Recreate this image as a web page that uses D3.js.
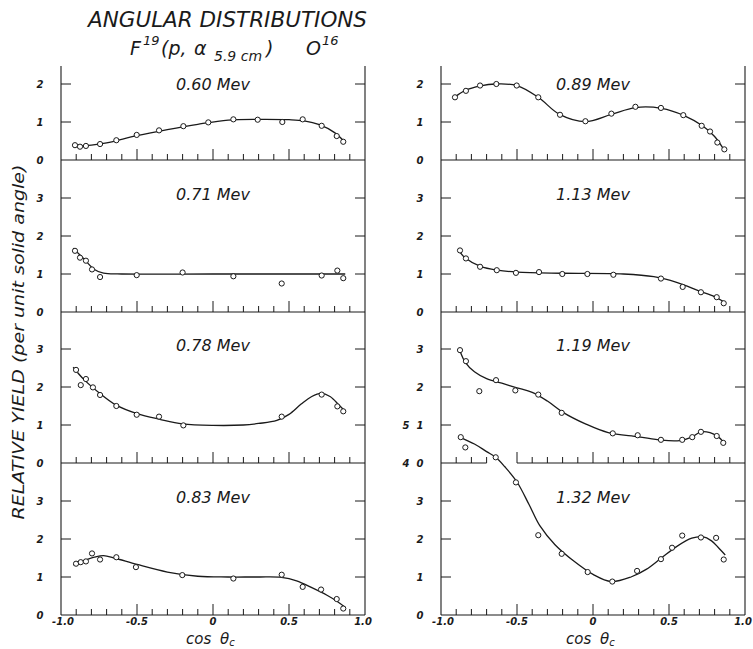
<!DOCTYPE html>
<html>
<head>
<meta charset="utf-8">
<script src="https://cdn.jsdelivr.net/npm/d3@7"></script>
<style>
  body { margin: 0; background: #fff; }
  svg { display: block; }
  text { font-family: "DejaVu Sans", sans-serif; font-style: oblique; fill: #1a1a1a; }
</style>
</head>
<body>
<div id="chart"></div>
<script>
// Angular distributions F19(p, alpha) O16 - eight stacked panels in two columns

// x ticks along every panel bottom (cos theta_c)
const minorTicks = [-0.9, -0.8, -0.7, -0.6, -0.4, -0.3, -0.2, -0.1, 0.1, 0.2, 0.3, 0.4, 0.6, 0.7, 0.8, 0.9];
const majorTicks = [-0.5, 0, 0.5];
const xLabels = ['-1.0', '-0.5', '0', '0.5', '1.0'];
const xLabelValues = [-1, -0.5, 0, 0.5, 1];

// measured points [cos theta, relative yield] and the smooth fitted curve of each energy
const pts060 = [[-0.908,0.39],[-0.875,0.35],[-0.836,0.37],[-0.743,0.42],[-0.636,0.52],[-0.502,0.66],[-0.355,0.78],[-0.195,0.89],[-0.031,0.99],[0.134,1.07],[0.294,1.06],[0.456,1.0],[0.59,1.07],[0.715,0.9],[0.814,0.63],[0.857,0.48]];
const fit060 = [[-0.9,0.37],[-0.8,0.39],[-0.7,0.45],[-0.5,0.64],[-0.3,0.8],[-0.1,0.94],[0.1,1.05],[0.3,1.07],[0.5,1.06],[0.6,1.03],[0.7,0.93],[0.8,0.72],[0.86,0.5]];

const pts089 = [[-0.908,1.65],[-0.836,1.82],[-0.743,1.96],[-0.636,2.0],[-0.502,1.96],[-0.36,1.65],[-0.217,1.19],[-0.05,1.02],[0.121,1.22],[0.279,1.4],[0.447,1.37],[0.594,1.18],[0.715,0.9],[0.77,0.75],[0.818,0.46],[0.864,0.28]];
const fit089 = [[-0.91,1.65],[-0.84,1.83],[-0.74,1.95],[-0.64,2.0],[-0.5,1.96],[-0.36,1.65],[-0.22,1.2],[-0.05,1.01],[0.12,1.2],[0.28,1.38],[0.45,1.36],[0.6,1.17],[0.72,0.9],[0.8,0.62],[0.86,0.28]];

const pts071 = [[-0.908,1.61],[-0.875,1.43],[-0.836,1.35],[-0.796,1.12],[-0.743,0.92],[-0.502,0.97],[-0.2,1.04],[0.134,0.94],[0.452,0.75],[0.715,0.96],[0.818,1.09],[0.857,0.89]];
const fit071 = [[-0.92,1.68],[-0.85,1.4],[-0.78,1.12],[-0.72,1.02],[-0.6,1.0],[0,1.0],[0.87,1.0]];

const pts113 = [[-0.875,1.62],[-0.836,1.41],[-0.743,1.19],[-0.633,1.1],[-0.507,1.03],[-0.355,1.05],[-0.202,1.0],[-0.037,1.0],[0.134,0.98],[0.447,0.88],[0.59,0.66],[0.71,0.52],[0.814,0.39],[0.86,0.23]];
const fit113 = [[-0.88,1.6],[-0.84,1.42],[-0.74,1.2],[-0.63,1.1],[-0.5,1.05],[-0.2,1.02],[0.2,1.0],[0.4,0.93],[0.55,0.78],[0.7,0.55],[0.8,0.4],[0.87,0.25]];

const pts078 = [[-0.901,2.45],[-0.87,2.05],[-0.836,2.21],[-0.79,1.99],[-0.743,1.79],[-0.636,1.5],[-0.502,1.27],[-0.355,1.22],[-0.195,0.99],[0.452,1.22],[0.715,1.8],[0.818,1.49],[0.857,1.36]];
const fit078 = [[-0.92,2.52],[-0.85,2.2],[-0.75,1.85],[-0.64,1.53],[-0.5,1.3],[-0.35,1.15],[-0.2,1.03],[0,0.99],[0.2,1.0],[0.3,1.04],[0.42,1.12],[0.5,1.28],[0.58,1.55],[0.65,1.75],[0.71,1.83],[0.77,1.75],[0.83,1.52],[0.87,1.36]];

const pts119 = [[-0.875,2.97],[-0.836,2.68],[-0.748,1.89],[-0.638,2.18],[-0.511,1.91],[-0.36,1.8],[-0.206,1.32],[0.13,0.78],[0.294,0.73],[0.447,0.61],[0.587,0.61],[0.653,0.68],[0.71,0.82],[0.814,0.71],[0.857,0.53]];
const fit119 = [[-0.875,2.95],[-0.84,2.65],[-0.78,2.4],[-0.7,2.22],[-0.6,2.1],[-0.5,1.98],[-0.4,1.86],[-0.3,1.63],[-0.2,1.34],[-0.05,1.03],[0.1,0.8],[0.3,0.69],[0.45,0.6],[0.57,0.59],[0.65,0.68],[0.71,0.82],[0.77,0.8],[0.82,0.7],[0.86,0.55]];

const pts083 = [[-0.901,1.35],[-0.87,1.39],[-0.836,1.41],[-0.796,1.62],[-0.743,1.46],[-0.636,1.52],[-0.507,1.26],[-0.202,1.05],[0.134,0.96],[0.452,1.06],[0.59,0.74],[0.711,0.67],[0.814,0.42],[0.857,0.17]];
const fit083 = [[-0.92,1.32],[-0.85,1.43],[-0.78,1.52],[-0.72,1.56],[-0.65,1.5],[-0.5,1.33],[-0.3,1.13],[-0.1,1.02],[0.1,1.0],[0.3,1.0],[0.45,0.99],[0.55,0.9],[0.65,0.72],[0.75,0.52],[0.82,0.35],[0.87,0.2]];

const pts132 = [[-0.87,4.68],[-0.84,4.41],[-0.64,4.15],[-0.507,3.49],[-0.36,2.1],[-0.206,1.61],[-0.035,1.13],[0.127,0.88],[0.29,1.16],[0.447,1.47],[0.52,1.77],[0.587,2.09],[0.71,2.04],[0.81,2.03],[0.86,1.46]];
const fit132 = [[-0.87,4.67],[-0.78,4.5],[-0.7,4.3],[-0.64,4.15],[-0.58,3.9],[-0.5,3.5],[-0.42,2.9],[-0.35,2.35],[-0.25,1.85],[-0.12,1.4],[0,1.07],[0.12,0.88],[0.25,1.0],[0.35,1.2],[0.45,1.5],[0.55,1.8],[0.65,2.02],[0.72,2.06],[0.78,1.95],[0.83,1.75],[0.87,1.58]];

const energies = ['0.60 Mev', '0.71 Mev', '0.78 Mev', '0.83 Mev', '0.89 Mev', '1.13 Mev', '1.19 Mev', '1.32 Mev'];

// panel table built from the arrays above
const panels = [
  {label: energies[0], col: 0, row: 0, pts: pts060, fit: fit060},
  {label: energies[1], col: 0, row: 1, pts: pts071, fit: fit071},
  {label: energies[2], col: 0, row: 2, pts: pts078, fit: fit078},
  {label: energies[3], col: 0, row: 3, pts: pts083, fit: fit083},
  {label: energies[4], col: 1, row: 0, pts: pts089, fit: fit089},
  {label: energies[5], col: 1, row: 1, pts: pts113, fit: fit113},
  {label: energies[6], col: 1, row: 2, pts: pts119, fit: fit119, gap: [-0.7, -0.5]},
  {label: energies[7], col: 1, row: 3, pts: pts132, fit: fit132}
];

const width = 753, height = 649;
const colLeft = [61, 441];
const colRight = [365, 745];
const zeroY = [160, 312, 463, 615];
const unit = 38;
const topY = 66;
const ink = '#1a1a1a';

const svg = d3.select('#chart').append('svg')
  .attr('width', width)
  .attr('height', height);

// titles
svg.append('text')
  .attr('x', 88).attr('y', 27)
  .attr('textLength', 279).attr('lengthAdjust', 'spacingAndGlyphs')
  .style('font-size', '22px')
  .text('ANGULAR DISTRIBUTIONS');

const t2 = svg.append('text').attr('y', 55).style('font-size', '19px');
t2.append('tspan').attr('x', 130).text('F');
t2.append('tspan').attr('x', 143).attr('dy', -10).style('font-size', '13px').text('19');
t2.append('tspan').attr('x', 161).attr('dy', 10).text('(p,');
t2.append('tspan').attr('x', 194).text('α');
t2.append('tspan').attr('x', 214).attr('dy', 6).style('font-size', '14px').text('5.9 cm');
t2.append('tspan').attr('x', 266).attr('dy', -6).text(')');
t2.append('tspan').attr('x', 306).text('O');
t2.append('tspan').attr('x', 322).attr('dy', -10).style('font-size', '13px').text('16');

// y axis title
svg.append('text')
  .attr('transform', 'translate(24,342) rotate(-90)')
  .attr('text-anchor', 'middle')
  .attr('textLength', 355).attr('lengthAdjust', 'spacingAndGlyphs')
  .style('font-size', '16px')
  .text('RELATIVE YIELD  (per unit solid angle)');

// frame of each column: two long verticals
[0, 1].forEach(c => {
  [colLeft[c], colRight[c]].forEach(x => {
    svg.append('line')
      .attr('x1', x).attr('x2', x)
      .attr('y1', topY).attr('y2', zeroY[3])
      .attr('stroke', ink).attr('stroke-width', 1.1);
  });
  // x tick labels under the lowest panel
  const x = d3.scaleLinear().domain([-1, 1]).range([colLeft[c], colRight[c]]);
  svg.selectAll(null).data(xLabelValues).enter().append('text')
    .attr('x', (d, i) => x(d) + (i === 0 ? 2 : (i === 4 ? -2 : 0)))
    .attr('y', 625)
    .attr('text-anchor', 'middle')
    .style('font-size', '10px').style('font-weight', 'bold')
    .text((d, i) => xLabels[i]);
  const xt = svg.append('text')
    .attr('x', x(0) - 27).attr('y', 644)
    .style('font-size', '15px');
  xt.append('tspan').text('cos ');
  xt.append('tspan').attr('dx', 4).text('θ');
  xt.append('tspan').attr('dy', 2).style('font-size', '10px').text('c');
});

const lineGen = d3.line().curve(d3.curveCatmullRom.alpha(0.5));

panels.forEach(p => {
  const x = d3.scaleLinear().domain([-1, 1]).range([colLeft[p.col], colRight[p.col]]);
  const y0 = zeroY[p.row];
  const yMax = p.row === 0 ? 2.5 : (p.label === '1.32 Mev' ? 5 : 4);
  const y = d3.scaleLinear().domain([0, yMax]).range([y0, y0 - yMax * unit]);
  const g = svg.append('g');

  // bottom line (with an optional break where a neighbour's curve passes)
  const segs = p.gap ? [[-1, p.gap[0]], [p.gap[1], 1]] : [[-1, 1]];
  segs.forEach(s => {
    g.append('line')
      .attr('x1', x(s[0])).attr('x2', x(s[1]))
      .attr('y1', y(0)).attr('y2', y(0))
      .attr('stroke', ink).attr('stroke-width', 1.1);
  });
  const hidden = v => p.gap && v > p.gap[0] + 0.01 && v < p.gap[1] - 0.01;
  g.selectAll('.minor').data(minorTicks.filter(v => !hidden(v))).enter().append('line')
    .attr('x1', d => x(d)).attr('x2', d => x(d))
    .attr('y1', y(0)).attr('y2', y(0) - 6)
    .attr('stroke', ink).attr('stroke-width', 1);
  g.selectAll('.major').data(majorTicks).enter().append('line')
    .attr('x1', d => x(d)).attr('x2', d => x(d))
    .attr('y1', y(0)).attr('y2', y(0) - 11)
    .attr('stroke', ink).attr('stroke-width', 1);

  // y ticks on both sides, pointing inward
  const yt = p.row === 0 ? [1, 2] : [1, 2, 3];
  yt.forEach(v => {
    g.append('line').attr('x1', x(-1)).attr('x2', x(-1) + 10)
      .attr('y1', y(v)).attr('y2', y(v)).attr('stroke', ink).attr('stroke-width', 1);
    g.append('line').attr('x1', x(1)).attr('x2', x(1) - 10)
      .attr('y1', y(v)).attr('y2', y(v)).attr('stroke', ink).attr('stroke-width', 1);
  });
  const labX = x(-1) - 21;
  [0].concat(yt).forEach(v => {
    g.append('text')
      .attr('x', labX).attr('y', y(v) + 4)
      .attr('text-anchor', 'middle')
      .style('font-size', '10px').style('font-weight', 'bold')
      .text(v);
  });
  // the 1.32 Mev scale continues into the panel above
  if (p.label === '1.32 Mev') {
    [4, 5].forEach(v => {
      g.append('text')
        .attr('x', labX - 14).attr('y', y(v) + 4)
        .attr('text-anchor', 'middle')
        .style('font-size', '10px').style('font-weight', 'bold')
        .text(v);
    });
  }

  // energy label
  g.append('text')
    .attr('x', x(0)).attr('y', y0 - (p.row === 0 ? 70 : 112))
    .attr('text-anchor', 'middle')
    .style('font-size', '16px')
    .text(p.label);

  // fitted curve
  g.append('path')
    .attr('d', lineGen(p.fit.map(d => [x(d[0]), y(d[1])])))
    .attr('fill', 'none')
    .attr('stroke', ink)
    .attr('stroke-width', 1.3);

  // measured points
  g.selectAll('circle').data(p.pts).enter().append('circle')
    .attr('cx', d => x(d[0]))
    .attr('cy', d => y(d[1]))
    .attr('r', 2.6)
    .attr('fill', '#fff')
    .attr('stroke', ink)
    .attr('stroke-width', 1);
});
</script>
</body>
</html>
